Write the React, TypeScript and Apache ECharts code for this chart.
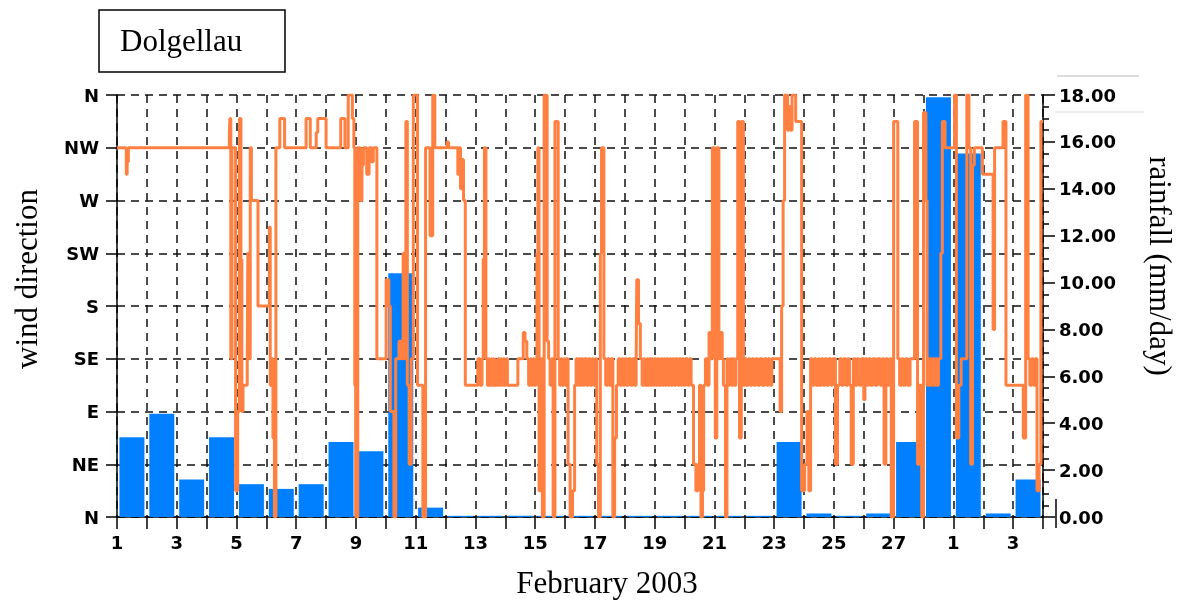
import React, { useEffect, useRef } from 'react';
import * as echarts from 'echarts';

// wind direction tick labels (0..360 step 45)
const windNames = ['N', 'NE', 'E', 'SE', 'S', 'SW', 'W', 'NW', 'N'];
// x tick labels every 2 days starting Feb 1
const dayLabels = ['1', '3', '5', '7', '9', '11', '13', '15', '17', '19', '21', '23', '25', '27', '1', '3'];
// daily rainfall mm/day, Feb 1 .. Mar 3
const rainfall = [
  3.4, 4.4, 1.6, 3.4, 1.4, 1.2, 1.4, 3.2, 2.8, 10.4, 0.4,
  0.05, 0.05, 0.05, 0.05, 0.05, 0.05, 0.05, 0.05, 0.05, 0.05, 0.05,
  3.2, 0.15, 0.05, 0.15, 3.2, 17.9,
  15.5, 0.15, 1.6,
];

// wind direction [days since Feb 1 00:00, degrees]
const windFeb1to9 = [
  [0, 315], [0.31, 292.5], [0.34, 303], [0.38, 315], [3.76, 328], [3.78, 340], [3.81, 135], [3.85, 315],
  [3.97, 22.5], [4.04, 90], [4.10, 340], [4.15, 220], [4.18, 90], [4.22, 112.5], [4.36, 135], [4.38, 225],
  [4.43, 135], [4.46, 315], [4.50, 270], [4.72, 180], [5.10, 247.5], [5.13, 112.5], [5.18, 135], [5.22, 67.5],
  [5.27, 0], [5.32, 315], [5.45, 340], [5.61, 315], [6.33, 340], [6.47, 315], [6.67, 328], [6.72, 340],
  [7.0, 315], [7.49, 340], [7.63, 315], [7.74, 360], [7.88, 340], [7.93, 315], [7.96, 112.5], [7.99, 0],
  [8.06, 315], [8.15, 270], [8.20, 300], [8.25, 315], [8.36, 292.5], [8.44, 315], [8.53, 303], [8.58, 315],
  [8.70, 135],
];
const windFeb10to12 = [
  [9.01, 202.5], [9.10, 180], [9.15, 90], [9.27, 0], [9.33, 135], [9.44, 150], [9.52, 135], [9.58, 225],
  [9.64, 135], [9.67, 337.5], [9.72, 112.5], [9.78, 45], [9.85, 135], [9.92, 360], [10.06, 112.5], [10.24, 0],
  [10.33, 315], [10.48, 240], [10.57, 360], [10.64, 315], [11.05, 320], [11.10, 315], [11.41, 292.5], [11.45, 315],
  [11.50, 280], [11.55, 305], [11.60, 270], [11.66, 112.5], [12.08, 135], [12.15, 112.5], [12.22, 135], [12.26, 220],
  [12.30, 315], [12.35, 135],
];
const windFeb13to20 = [
  [12.40, 112.5], [12.44, 135], [12.47, 112.5], [12.52, 135], [12.55, 112.5], [12.60, 135], [12.63, 112.5], [12.68, 135],
  [12.70, 112.5], [12.76, 135], [12.80, 112.5], [12.84, 135], [12.88, 112.5], [12.93, 135], [12.97, 112.5], [13.03, 135],
  [13.07, 112.5], [13.42, 135], [13.60, 157.5], [13.66, 150], [13.72, 135], [13.78, 112.5], [13.84, 135], [13.88, 112.5],
  [13.93, 135], [13.97, 112.5], [14.03, 135], [14.06, 225], [14.09, 315], [14.13, 22.5], [14.19, 135], [14.24, 0],
  [14.30, 360], [14.40, 150], [14.45, 135], [14.50, 112.5], [14.55, 135], [14.60, 0], [14.66, 337.5], [14.77, 135],
  [14.82, 112.5], [14.86, 135], [14.90, 112.5], [14.95, 135], [15.00, 112.5], [15.04, 135], [15.10, 45], [15.17, 0],
  [15.25, 22.5], [15.32, 112.5], [15.37, 135], [15.42, 112.5], [15.46, 135], [15.50, 112.5], [15.55, 135], [15.60, 112.5],
  [15.65, 135], [15.72, 112.5], [15.78, 135], [15.84, 112.5], [15.90, 135], [15.96, 112.5], [16.02, 135], [16.06, 45],
  [16.12, 0], [16.18, 225], [16.22, 315], [16.30, 135], [16.36, 112.5], [16.42, 135], [16.48, 112.5], [16.54, 135],
  [16.60, 0], [16.66, 67.5], [16.72, 112.5], [16.78, 135], [16.84, 112.5], [16.90, 135], [16.95, 112.5], [17.00, 135],
  [17.06, 112.5], [17.12, 135], [17.20, 112.5], [17.26, 135], [17.32, 112.5], [17.38, 135], [17.40, 202.5], [17.46, 165],
  [17.52, 135], [17.58, 112.5], [17.63, 135], [17.67, 112.5], [17.75, 135], [17.78, 112.5], [17.82, 135], [17.86, 112.5],
  [17.90, 135], [17.94, 112.5], [18.00, 135], [18.05, 112.5], [18.10, 135], [18.14, 112.5], [18.20, 135], [18.25, 112.5],
  [18.30, 135], [18.35, 112.5], [18.40, 135], [18.45, 112.5], [18.50, 135], [18.55, 112.5], [18.60, 135], [18.65, 112.5],
  [18.70, 135], [18.77, 112.5], [18.82, 135], [18.87, 112.5], [18.92, 135], [18.97, 112.5], [19.03, 135], [19.10, 112.5],
  [19.16, 135], [19.22, 112.5],
];
const windFeb20to27 = [
  [19.30, 45], [19.38, 22.5], [19.45, 45], [19.50, 112.5], [19.55, 0], [19.60, 22.5], [19.64, 112.5], [19.70, 135],
  [19.76, 112.5], [19.82, 157.5], [19.88, 135], [19.93, 315], [20.03, 67.5], [20.08, 315], [20.15, 135], [20.20, 157.5],
  [20.26, 135], [20.30, 112.5], [20.37, 0], [20.42, 135], [20.47, 112.5], [20.52, 135], [20.57, 112.5], [20.62, 135],
  [20.67, 112.5], [20.72, 135], [20.78, 337.5], [20.84, 67.5], [20.90, 337.5], [20.97, 112.5], [21.02, 135], [21.07, 112.5],
  [21.14, 135], [21.20, 112.5], [21.26, 135], [21.32, 112.5], [21.38, 135], [21.45, 112.5], [21.52, 135], [21.60, 112.5],
  [21.68, 135], [21.75, 112.5], [21.80, 135], [21.86, 112.5], [21.92, 135], [22.00, 135], [22.20, 90], [22.25, 180],
  [22.30, 270], [22.35, 360], [22.45, 330], [22.50, 350], [22.55, 330], [22.60, 360], [22.72, 337.5], [22.92, 22.5],
  [23.02, 45], [23.10, 90], [23.16, 22.5], [23.22, 135], [23.28, 112.5], [23.34, 135], [23.40, 112.5], [23.48, 135],
  [23.52, 112.5], [23.58, 135], [23.64, 112.5], [23.70, 135], [23.76, 112.5], [23.82, 135], [23.90, 112.5], [23.95, 135],
  [24.05, 45], [24.12, 112.5], [24.20, 135], [24.26, 112.5], [24.32, 135], [24.40, 112.5], [24.46, 135], [24.52, 112.5],
  [24.58, 45], [24.65, 135], [24.72, 112.5], [24.78, 135], [24.84, 112.5], [24.92, 135], [25.00, 100], [25.04, 135],
  [25.10, 112.5], [25.16, 135], [25.22, 112.5], [25.30, 135], [25.38, 112.5], [25.45, 135], [25.55, 112.5], [25.62, 135],
  [25.68, 45], [25.74, 135], [25.80, 112.5], [25.86, 135], [25.92, 0], [26.00, 337.5], [26.14, 135], [26.20, 112.5],
  [26.26, 135], [26.32, 112.5], [26.40, 135], [26.46, 112.5], [26.55, 135], [26.70, 337.5], [26.80, 45], [26.86, 112.5],
  [26.94, 0],
];
const windFeb28toMar3 = [
  [27.00, 345], [27.08, 270], [27.12, 112.5], [27.15, 135], [27.18, 112.5], [27.21, 135], [27.24, 112.5], [27.27, 135],
  [27.30, 112.5], [27.33, 135], [27.36, 112.5], [27.40, 135], [27.45, 112.5], [27.50, 135], [27.58, 225], [27.63, 337.5],
  [27.72, 315], [28.04, 360], [28.10, 67.5], [28.18, 112.5], [28.26, 135], [28.45, 360], [28.52, 315], [28.58, 45],
  [28.64, 300], [28.70, 315], [28.97, 292.5], [29.33, 160], [29.38, 315], [29.66, 337.5], [29.76, 112.5], [30.34, 67.5],
  [30.42, 360], [30.50, 135], [30.56, 112.5], [30.62, 135], [30.68, 112.5], [30.74, 135], [30.80, 22.5], [30.87, 45],
  [30.93, 337.5], [31, 337.5],
];

const tickFont = { fontFamily: '"DejaVu Sans", sans-serif', fontWeight: 'bold' as const, fontSize: 18, color: '#000' };
const serif = '31px "Liberation Serif", "Times New Roman", serif';
const dash = { type: [8, 6] as number[], color: '#111', width: 1.5 };

export default function App() {
  const ref = useRef<HTMLDivElement>(null);
  useEffect(() => {
    const chart = echarts.init(ref.current!, null, { renderer: 'svg' });
    const wind = [...windFeb1to9, ...windFeb10to12, ...windFeb13to20, ...windFeb20to27, ...windFeb28toMar3];
    const bars = rainfall.map((v, i) => [i + 0.5, v]);
    chart.setOption({
      animation: false,
      grid: { left: 117, right: 135, top: 95, bottom: 86, containLabel: false },
      xAxis: {
        type: 'value', min: 0, max: 31, interval: 1,
        axisLine: { show: true, lineStyle: { color: '#000', width: 1.5 } },
        axisTick: { show: true, length: 12, lineStyle: { color: '#000', width: 1.5 } },
        axisLabel: {
          ...tickFont, margin: 16, showMinLabel: true, showMaxLabel: true,
          formatter: (v: number) => (Math.round(v) % 2 === 0 ? dayLabels[Math.round(v) / 2] ?? '' : ''),
        },
        splitLine: { show: true, lineStyle: dash },
      },
      yAxis: [
        {
          type: 'value', min: 0, max: 360, interval: 45, position: 'left',
          axisLine: { show: true, lineStyle: { color: '#000', width: 1.5 } },
          axisTick: { show: true, length: 11, lineStyle: { color: '#000', width: 1.5 } },
          axisLabel: { ...tickFont, margin: 18, formatter: (v: number) => windNames[Math.round(v / 45)] },
          splitLine: { show: true, lineStyle: dash },
        },
        {
          type: 'value', min: 0, max: 18, interval: 2, position: 'right',
          axisLine: { show: true, lineStyle: { color: '#000', width: 1.5 } },
          axisTick: { show: true, length: 12, lineStyle: { color: '#000', width: 1.5 } },
          minorTick: { show: true, splitNumber: 4, length: 6, lineStyle: { color: '#000', width: 1.5 } },
          axisLabel: { ...tickFont, margin: 16, formatter: (v: number) => v.toFixed(2) },
          splitLine: { show: false },
        },
      ],
      series: [
        {
          type: 'bar', yAxisIndex: 1, data: bars, barWidth: 25,
          itemStyle: { color: '#0080FF' }, z: 2,
        },
        {
          type: 'line', yAxisIndex: 0, data: wind, step: 'end', symbol: 'none', showSymbol: false,
          lineStyle: { color: '#FF8040', width: 3 }, z: 3,
        },
      ],
      graphic: [
        { type: 'rect', shape: { x: 99, y: 10, width: 186, height: 62 }, style: { fill: '#fff', stroke: '#000', lineWidth: 1.5 } },
        { type: 'text', x: 120, y: 40, style: { text: 'Dolgellau', font: serif, fill: '#000', verticalAlign: 'middle' } },
        { type: 'text', x: 26, y: 279, rotation: Math.PI / 2, style: { text: 'wind direction', font: serif, fill: '#000', align: 'center', verticalAlign: 'middle' } },
        { type: 'text', x: 1160, y: 266, rotation: -Math.PI / 2, style: { text: 'rainfall (mm/day)', font: serif, fill: '#000', align: 'center', verticalAlign: 'middle' } },
        { type: 'text', x: 607, y: 582, style: { text: 'February 2003', font: serif, fill: '#000', align: 'center', verticalAlign: 'middle' } },
        { type: 'line', shape: { x1: 1057, y1: 76, x2: 1139, y2: 76 }, style: { stroke: '#bbb', lineWidth: 1 } },
        { type: 'line', shape: { x1: 1055, y1: 112, x2: 1144, y2: 112 }, style: { stroke: '#ddd', lineWidth: 1 } },
        { type: 'line', shape: { x1: 1056, y1: 499, x2: 1056, y2: 528 }, style: { stroke: '#000', lineWidth: 1.5 } },
      ],
    });
    return () => chart.dispose();
  }, []);
  return <div ref={ref} style={{ position: 'fixed', left: 0, top: 0, width: 1178, height: 603 }} />;
}
